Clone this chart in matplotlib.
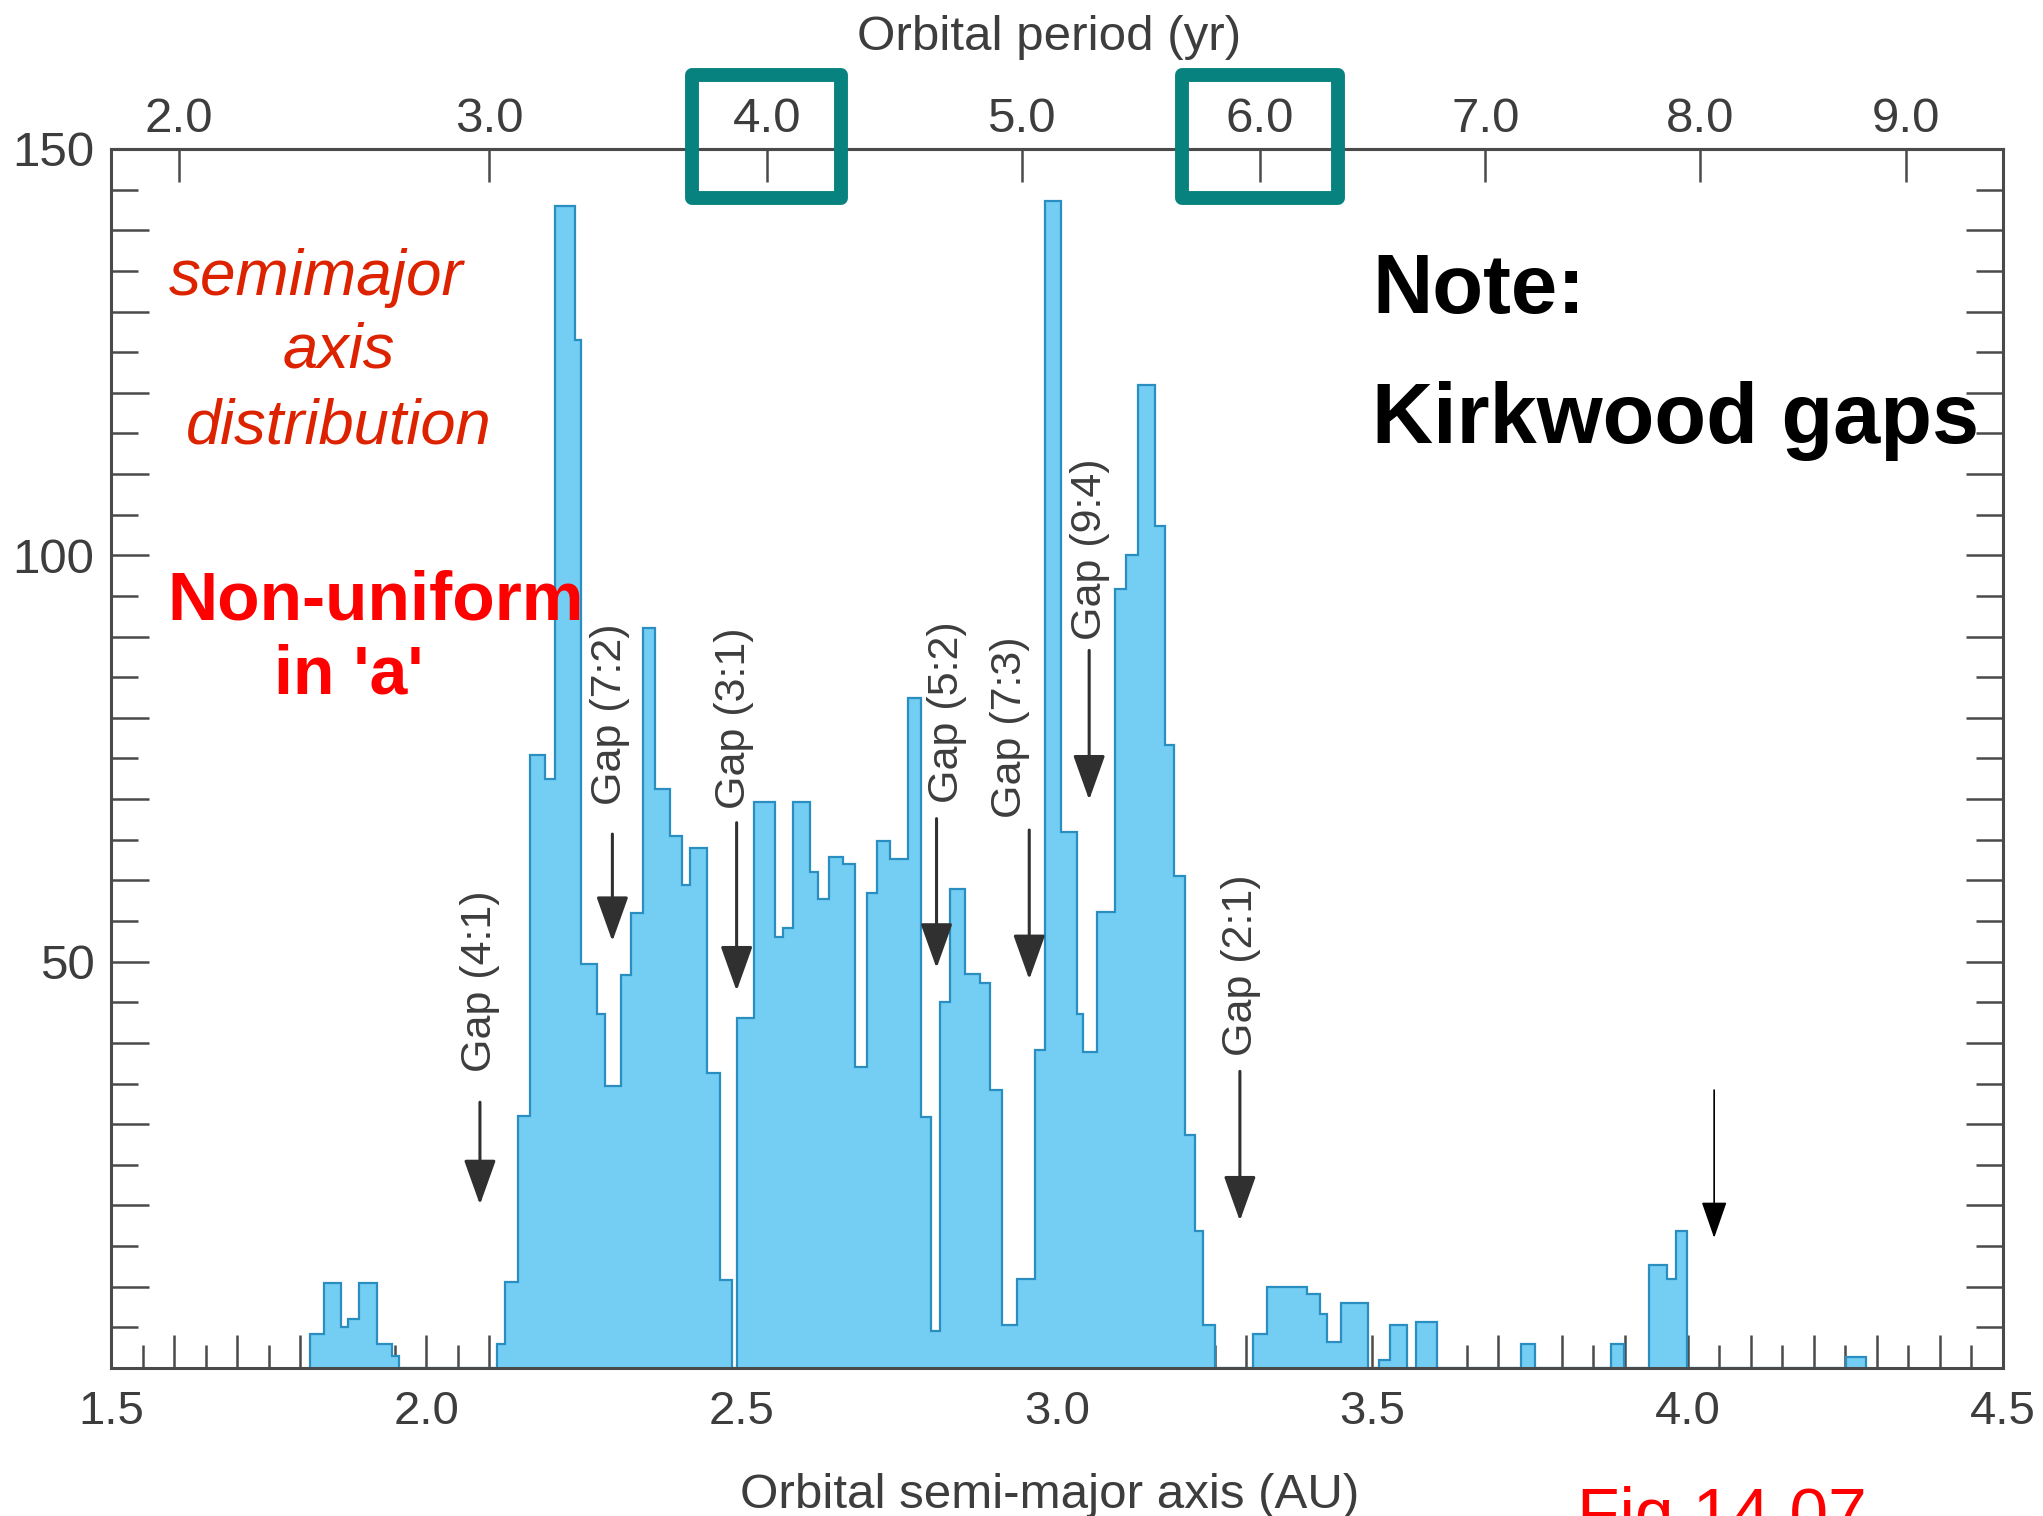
import numpy as np
import matplotlib
matplotlib.use("Agg")
import matplotlib.pyplot as plt
from matplotlib.patches import Rectangle
from matplotlib.ticker import FixedLocator, FuncFormatter, NullLocator
from matplotlib.transforms import blended_transform_factory

plt.rcParams["font.family"] = ["Liberation Sans", "DejaVu Sans"]

# Asteroid counts per semimajor-axis bin (AU); bin edges are not uniform
bin_edges = [
    1.816, 1.837, 1.864, 1.876, 1.894, 1.922, 1.945, 1.956, 2.112, 2.125,
    2.146, 2.164, 2.188, 2.204, 2.236, 2.246, 2.270, 2.283, 2.308, 2.324,
    2.344, 2.363, 2.386, 2.405, 2.418, 2.445, 2.466, 2.484, 2.492, 2.520,
    2.553, 2.566, 2.581, 2.608, 2.621, 2.638, 2.661, 2.680, 2.698, 2.714,
    2.735, 2.763, 2.785, 2.801, 2.814, 2.830, 2.854, 2.878, 2.894, 2.912,
    2.936, 2.965, 2.981, 3.007, 3.031, 3.042, 3.063, 3.092, 3.110, 3.129,
    3.155, 3.171, 3.185, 3.203, 3.219, 3.232, 3.250, 3.311, 3.333, 3.396,
    3.417, 3.428, 3.451, 3.493, 3.510, 3.528, 3.555, 3.570, 3.602, 3.736,
    3.758, 3.879, 3.899, 3.939, 3.967, 3.981, 3.999, 4.251, 4.283,
]
counts = [
    4.2, 10.5, 5, 6, 10.5, 3, 1.5, 0, 3, 10.6,
    31, 75.4, 72.5, 143, 126.5, 49.7, 43.6, 34.7, 48.3, 56,
    91, 71.2, 65.5, 59.4, 64, 36.3, 10.8, 0, 43.1, 69.7,
    53, 54.1, 69.7, 61, 57.7, 62.9, 62, 37, 58.5, 64.8,
    62.6, 82.5, 30.9, 4.5, 45, 58.9, 48.5, 47.4, 34.2, 5.3,
    10.9, 39.1, 143.6, 65.9, 43.6, 38.9, 56.1, 95.9, 100.1, 121,
    103.6, 76.7, 60.5, 28.7, 16.8, 5.3, 0, 4.2, 10, 9.1,
    6.7, 3.2, 8, 0, 1, 5.3, 0, 5.7, 0, 3,
    0, 2.9, 0, 12.7, 11, 16.8, 0, 1.4,
]

# Kirkwood gaps (AU) and their labels
gap_names = ["Gap (4:1)", "Gap (7:2)", "Gap (3:1)", "Gap (5:2)",
             "Gap (7:3)", "Gap (9:4)", "Gap (2:1)"]
gap_a = [2.085, 2.295, 2.492, 2.809, 2.956, 3.051, 3.290]
gap_label_a = [2.085, 2.292, 2.488, 2.826, 2.925, 3.053, 3.292]
gap_arrow_top = [32.7, 65.7, 67.1, 67.6, 66.2, 88.3, 36.5]
gap_arrow_tip = [20.1, 52.5, 46.4, 49.2, 47.8, 69.9, 18.1]
gap_label_mid = [47.6, 80.5, 79.9, 80.7, 78.9, 100.8, 49.5]

period_ticks = [2.0, 3.0, 4.0, 5.0, 6.0, 7.0, 8.0, 9.0]
period_axis_shift = 0.02  # AU offset of the printed period scale
boxed_periods = [4.0, 6.0]
boxed_half_width = [0.118, 0.124]

W, H = 2043, 1516


def px(x, y):
    """Canvas pixel (from top-left) to figure fraction."""
    return x / W, 1 - y / H


def a_to_period(a):
    return np.power(np.clip(a - period_axis_shift, 1e-6, None), 1.5)


def period_to_a(p):
    return np.power(np.clip(p, 1e-6, None), 2 / 3) + period_axis_shift


fill_c = "#74CDF3"
edge_c = "#2A8EC0"
axis_c = "#4a4a4a"
text_c = "#3d3d3d"
teal = "#07827e"

fig = plt.figure(figsize=(W / 100, H / 100), dpi=100)
ax = fig.add_axes([111 / W, 148 / H, 1892 / W, 1219 / H])

ax.stairs(counts, bin_edges, fill=True, facecolor=fill_c, edgecolor=edge_c,
          linewidth=1.6, zorder=2)

ax.set_xlim(1.5, 4.5)
ax.set_ylim(0, 150)

for s in ax.spines.values():
    s.set_linewidth(2.2)
    s.set_color(axis_c)

# bottom axis: long ticks every 0.1 AU, short ones between, labels every 0.5
ax.xaxis.set_major_locator(FixedLocator(np.round(np.arange(1.5, 4.501, 0.1), 2)))
ax.xaxis.set_minor_locator(FixedLocator(np.round(np.arange(1.55, 4.5, 0.1), 2)))
ax.xaxis.set_major_formatter(FuncFormatter(
    lambda v, p: f"{v:.1f}" if abs(v * 2 - round(v * 2)) < 1e-6 else ""))

ax.yaxis.set_major_locator(FixedLocator(np.arange(0, 151, 10)))
ax.yaxis.set_minor_locator(FixedLocator(np.arange(5, 150, 10)))
ax.yaxis.set_major_formatter(FuncFormatter(
    lambda v, p: f"{int(v)}" if v > 0 and v % 50 == 0 else ""))

ax.tick_params(axis="x", which="both", direction="in", top=False, bottom=True,
               width=1.8, color=axis_c, labelsize=34, labelcolor=text_c, pad=16)
ax.tick_params(axis="x", which="major", length=24)
ax.tick_params(axis="x", which="minor", length=16.8)
ax.tick_params(axis="y", which="both", direction="in", left=True, right=True,
               width=1.8, color=axis_c, labelsize=35.5, labelcolor=text_c, pad=12)
ax.tick_params(axis="y", which="major", length=27)
ax.tick_params(axis="y", which="minor", length=19.5)

# top axis: orbital period from Kepler's third law, P = a^1.5
secax = ax.secondary_xaxis("top", functions=(a_to_period, period_to_a))
secax.set_xticks(period_ticks)
secax.xaxis.set_major_formatter(FuncFormatter(lambda v, p: f"{v:.1f}"))
secax.xaxis.set_minor_locator(NullLocator())
secax.tick_params(direction="in", length=24, width=1.8, color=axis_c,
                  labelsize=35.5, labelcolor=text_c, pad=5)
secax.spines["top"].set_linewidth(2.2)
secax.spines["top"].set_color(axis_c)

# gap arrows and labels
for name, a, la, top, tip, mid in zip(gap_names, gap_a, gap_label_a,
                                      gap_arrow_top, gap_arrow_tip,
                                      gap_label_mid):
    ax.annotate("", xy=(a, tip), xytext=(a, top),
                arrowprops=dict(arrowstyle="-|>,head_length=1.4,head_width=0.5",
                                mutation_scale=20, color="#303030", lw=2.2,
                                shrinkA=0, shrinkB=0), zorder=5)
    ax.text(la, mid, name, rotation=90, ha="center", va="center",
            fontsize=31, color=text_c, zorder=5)

ax.annotate("", xy=(4.042, 16.0), xytext=(4.042, 34.2),
            arrowprops=dict(arrowstyle="-|>,head_length=1.15,head_width=0.4",
                            mutation_scale=20, color="black", lw=1.2,
                            shrinkA=0, shrinkB=0), zorder=5)

# highlight boxes around two period ticks
trans = blended_transform_factory(ax.transData, fig.transFigure)
for p, hw in zip(boxed_periods, boxed_half_width):
    a = period_to_a(p)
    ax.add_patch(Rectangle((a - hw, 1 - 198 / H), 2 * hw, 123 / H,
                           transform=trans, fill=False, edgecolor=teal,
                           linewidth=10, joinstyle="round", clip_on=False,
                           zorder=10))

# axis titles
fig.text(*px(1049, 50), "Orbital period (yr)", ha="center", va="baseline",
         fontsize=35.5, color=text_c)
fig.text(*px(1050, 1508), "Orbital semi-major axis (AU)", ha="center",
         va="baseline", fontsize=35.5, color=text_c)

# side notes
red_o = "#DD2200"
fig.text(*px(169, 295), "semimajor", ha="left", va="baseline",
         fontsize=46, style="italic", color=red_o)
fig.text(*px(283, 367), "axis", ha="left", va="baseline",
         fontsize=45.5, style="italic", color=red_o)
fig.text(*px(186, 444), "distribution", ha="left", va="baseline",
         fontsize=45.5, style="italic", color=red_o)

fig.text(*px(167, 619), "Non-uniform", ha="left", va="baseline",
         fontsize=50, fontweight="bold", color="#FF0000")
fig.text(*px(274, 693), "in 'a'", ha="left", va="baseline",
         fontsize=49, fontweight="bold", color="#FF0000")

fig.text(*px(1372, 313), "Note:", ha="left", va="baseline",
         fontsize=60, fontweight="bold", color="black")
fig.text(*px(1372, 443), "Kirkwood gaps", ha="left", va="baseline",
         fontsize=61, fontweight="bold", color="black")

fig.text(*px(1577, 1536), "Fig 14.07", ha="left", va="baseline",
         fontsize=50, color="#FF0000")

fig.savefig("out.png", dpi=100)
